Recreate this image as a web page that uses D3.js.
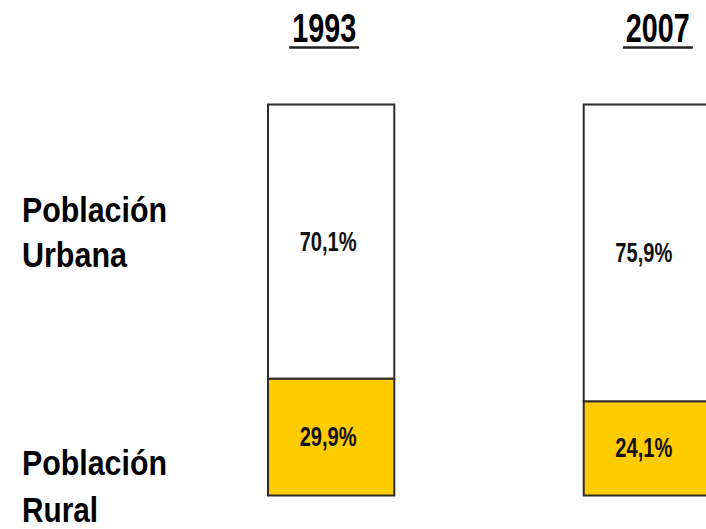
<!DOCTYPE html>
<html>
<head>
<meta charset="utf-8">
<script src="https://cdn.jsdelivr.net/npm/d3@7"></script>
<style>
  html, body { margin: 0; padding: 0; background: #fff; overflow: hidden; }
  text { font-family: "Liberation Sans Narrow", "Arial Narrow", "Liberation Sans", Arial, sans-serif; font-weight: bold; }
</style>
</head>
<body>
<script>
// data
var years = ["1993", "2007"];
var urbana = [70.1, 75.9];
var rural = [29.9, 24.1];
var valueLabels = [["70,1%", "29,9%"], ["75,9%", "24,1%"]];
var rowLabels = [["Población", "Urbana"], ["Población", "Rural"]];

var width = 706, height = 529;

var svg = d3.select("body")
   .append("svg")
   .attr("width", width)
   .attr("height", height);

var xScale = d3.scaleBand()
   .domain(years)
   .range([268, 710])
   .paddingInner(0.6)
   .paddingOuter(0);

var yScale = d3.scaleLinear()
   .domain([0, 100])
   .range([495.5, 104.5]);

var stacked = years.map(function(y, i){
    return [
        {year: y, y0: 0, y1: rural[i], fill: "#FFCC00", label: valueLabels[i][1]},
        {year: y, y0: rural[i], y1: rural[i] + urbana[i], fill: "#FFFFFF", label: valueLabels[i][0]}
    ];
});
var segs = d3.merge(stacked);

// bars
svg.selectAll("rect.seg")
   .data(segs)
   .enter()
   .append("rect")
   .attr("class", "seg")
   .attr("x", function(d){ return xScale(d.year); })
   .attr("width", xScale.bandwidth())
   .attr("y", function(d){ return yScale(d.y1); })
   .attr("height", function(d){ return yScale(d.y0) - yScale(d.y1); })
   .attr("fill", function(d){ return d.fill; })
   .attr("stroke", "#2b2b2b")
   .attr("stroke-width", 2);

// value labels
svg.selectAll("text.val")
   .data(segs)
   .enter()
   .append("text")
   .attr("class", "val")
   .attr("x", function(d){ return xScale(d.year) + xScale.bandwidth() / 2 - 3; })
   .attr("y", function(d){ return (yScale(d.y0) + yScale(d.y1)) / 2 + 9; })
   .attr("text-anchor", "middle")
   .attr("font-size", 27)
   .attr("textLength", 57)
   .attr("lengthAdjust", "spacingAndGlyphs")
   .attr("fill", "#111")
   .text(function(d){ return d.label; });

// year titles, underlined
var titleShift = [-7, 11];
years.forEach(function(y, i){
    var cx = xScale(y) + xScale.bandwidth() / 2 + titleShift[i];
    svg.append("text")
       .attr("x", cx)
       .attr("y", 42)
       .attr("text-anchor", "middle")
       .attr("font-size", 40)
       .attr("textLength", 64)
       .attr("lengthAdjust", "spacingAndGlyphs")
       .attr("fill", "#000")
       .text(y);
    svg.append("line")
       .attr("x1", cx - 35)
       .attr("x2", cx + 35)
       .attr("y1", 47.5)
       .attr("y2", 47.5)
       .attr("stroke", "#222")
       .attr("stroke-width", 2.5);
});

// row labels
var rowBase = [[222, 267], [475, 522]];
var rowWidth = [[145, 105], [145, 76]];
rowLabels.forEach(function(lines, i){
    lines.forEach(function(t, j){
        svg.append("text")
           .attr("x", 22)
           .attr("y", rowBase[i][j])
           .attr("font-size", 35)
           .attr("textLength", rowWidth[i][j])
           .attr("lengthAdjust", "spacingAndGlyphs")
           .attr("fill", "#000")
           .text(t);
    });
});
</script>
</body>
</html>
